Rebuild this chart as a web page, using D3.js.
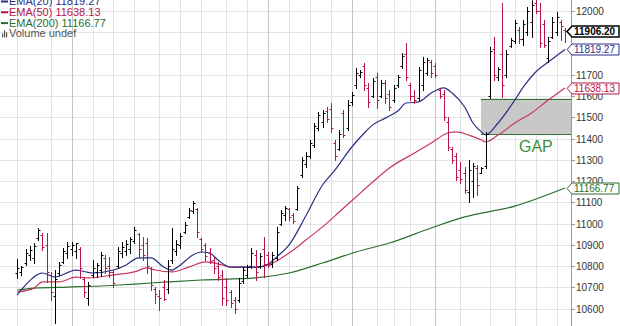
<!DOCTYPE html>
<html>
<head>
<meta charset="utf-8">
<script src="https://cdnjs.cloudflare.com/ajax/libs/d3/7.8.5/d3.min.js"></script>
<style>
body{margin:0;background:#fff;}
#chart{width:620px;height:326px;overflow:hidden;}
</style>
</head>
<body>
<div id="chart"></div>
<script>
// daily bars, oldest first
const opens = [10765,10770,10815,10850,10840,10930,10945,10900,10760,10660,10765,10820,10860,10880,10870,10880,10740,10650,10760,10770,
10780,10840,10800,10770,10800,10860,10870,10880,10920,10950,10900,10910,10790,10690,10660,10700,10690,10830,10870,10900,
10960,11030,11060,11070,10925,10900,10860,10830,10800,10760,10700,10680,10640,10640,10730,10760,10800,10850,10800,10880,
10850,10810,10840,11000,11040,11070,11040,11070,11230,11280,11320,11370,11450,11480,11530,11540,11380,11350,11520,11450,
11570,11650,11700,11740,11640,11600,11690,11600,11660,11610,11580,11650,11740,11800,11650,11600,11590,11650,11710,11760,
11740,11630,11610,11480,11350,11320,11250,11240,11150,11200,11260,11240,11270,11600,11820,11690,11800,11700,11835,11860,
11910,11870,11900,11950,12040,12000,11940,11780,11880,11900,11950,11910];
const highs = [10833,10800,10880,10894,10908,10979,10955,10955,10772,10781,10819,10885,10913,10913,10908,10889,10748,10725,10828,10814,
10866,10852,10842,10781,10889,10913,10922,10936,10984,10955,10936,10932,10795,10701,10687,10734,10828,10979,10922,10955,
11007,11073,11106,11073,10932,10908,10885,10842,10819,10781,10744,10687,10654,10744,10795,10805,10885,10875,10861,10936,
10866,10866,10984,11064,11082,11073,11049,11176,11313,11336,11393,11473,11525,11534,11548,11567,11393,11440,11534,11581,
11619,11732,11722,11755,11661,11685,11708,11675,11675,11628,11652,11699,11802,11849,11661,11628,11736,11784,11779,11769,
11755,11638,11628,11501,11360,11332,11289,11266,11299,11285,11275,11266,11431,11831,11878,11736,12038,11816,11873,11958,
11925,11958,12019,12050,12052,12038,11958,11878,11972,11995,11958,11920];
const lows = [10744,10757,10805,10828,10814,10922,10875,10725,10640,10532,10758,10814,10838,10852,10838,10744,10654,10617,10748,10748,
10753,10767,10748,10701,10791,10842,10852,10861,10908,10842,10828,10767,10687,10626,10593,10640,10673,10814,10852,10885,
10955,11026,11049,10936,10866,10828,10814,10767,10734,10617,10617,10607,10579,10631,10720,10748,10791,10734,10791,10748,
10795,10795,10828,10993,11016,11016,11002,11064,11219,11266,11308,11360,11440,11454,11478,11431,11299,11346,11407,11440,
11558,11638,11689,11628,11548,11595,11544,11595,11567,11534,11572,11642,11732,11675,11581,11567,11581,11628,11699,11689,
11689,11591,11487,11346,11285,11205,11191,11144,11101,11125,11134,11238,11261,11591,11675,11675,11595,11689,11831,11849,
11849,11840,11887,11878,11991,11831,11831,11760,11873,11887,11864,11854];
const closes = [10790,10796,10860,10875,10895,10970,10890,10770,10680,10740,10805,10870,10895,10900,10906,10790,10680,10710,10790,10805,
10850,10790,10770,10720,10870,10890,10905,10925,10970,10880,10850,10800,10710,10670,10650,10645,10800,10880,10905,10940,
10995,11065,11095,10960,10880,10845,10825,10790,10750,10650,10640,10625,10600,10720,10780,10795,10860,10770,10845,10810,
10805,10850,10960,11050,11075,11030,11010,11165,11300,11320,11380,11460,11510,11520,11490,11450,11320,11420,11415,11560,
11605,11710,11715,11650,11570,11670,11580,11660,11590,11550,11640,11690,11790,11690,11600,11580,11720,11760,11770,11710,
11700,11600,11500,11360,11300,11220,11210,11160,11250,11270,11180,11260,11420,11810,11700,11725,11650,11800,11865,11945,
11870,11940,12000,12030,12000,11850,11840,11860,11950,11970,11930,11906.20];

// moving averages read at sampled bar positions
const emaDays20 = [0,2,6,9,14,18,23,26,29,32,35,37,39,42,44,46,48,51,54,58,60,62,65,69,73,76,80,83,85,88,91,93,96,99,102,104,107,109,111,112,115,119,121,124,127,131];
const ema20 = [10664,10711,10767,10748,10781,10767,10781,10805,10838,10838,10795,10781,10805,10852,10866,10861,10828,10795,10795,10795,10809,10842,10899,11035,11181,11252,11360,11426,11464,11496,11529,11567,11572,11614,11638,11614,11548,11473,11431,11417,11473,11581,11642,11713,11760,11819.27];
const emaDays50 = [0,4,6,10,14,17,23,28,31,33,37,41,45,49,51,57,60,65,69,73,77,81,85,89,95,99,103,105,108,111,112,115,119,123,127,131];
const ema50 = [10678,10696,10725,10725,10748,10744,10758,10772,10791,10781,10772,10795,10819,10805,10795,10795,10805,10861,10922,10984,11054,11125,11195,11261,11332,11379,11426,11431,11416,11393,11384,11416,11473,11520,11581,11638.13];
const emaDays200 = [0,4,12,20,28,36,44,57,65,73,81,89,99,107,119,131];
const ema200 = [10687,10696,10701,10706,10715,10725,10734,10744,10767,10814,10866,10908,10979,11031,11082,11166.77];

// price axis and grid
const priceTicks = [10600,10700,10800,10900,11000,11100,11200,11300,11400,11500,11600,11700,11800,11900,12000];
const weekLines = [0,8,18,23,28,34,39,44,50,55,65,70,75,86,90,94,106,113,119,124,129];
const monthLines = [13,60,80,100];

// gap annotation
const gapStart = 111;
const gapRange = [11420, 11588];
const gapLabel = "GAP";

function PriceChart(){
    var self = this;
    self.init();
};

PriceChart.prototype.init = function(){
    var self = this;
    self.svgWidth = 620;
    self.svgHeight = 326;
    self.axisX = 571;

    self.svg = d3.select("#chart").append("svg")
        .attr("width", self.svgWidth)
        .attr("height", self.svgHeight)
        .style("font-family", "'Liberation Sans', Arial, sans-serif");

    self.xScale = d3.scaleLinear()
        .domain([0, closes.length - 1])
        .range([17.3, 565]);
    self.yScale = d3.scaleLinear()
        .domain([10600, 12000])
        .range([308.5, 11]);
};

PriceChart.prototype.update = function(){
    var self = this;
    var svg = self.svg, x = self.xScale, y = self.yScale;

    //grid
    svg.append("g").selectAll("line")
        .data(priceTicks.concat([10500]))
        .enter().append("line")
        .attr("x1", 0).attr("x2", self.axisX)
        .attr("y1", d => Math.round(y(d)) + 0.5)
        .attr("y2", d => Math.round(y(d)) + 0.5)
        .attr("stroke", "#e3e3e3");
    svg.append("g").selectAll("line")
        .data(weekLines)
        .enter().append("line")
        .attr("x1", d => Math.round(x(d)) + 0.5)
        .attr("x2", d => Math.round(x(d)) + 0.5)
        .attr("y1", 0).attr("y2", self.svgHeight)
        .attr("stroke", "#e3e3e3");
    svg.append("g").selectAll("line")
        .data(monthLines)
        .enter().append("line")
        .attr("x1", d => Math.round(x(d)) + 0.5)
        .attr("x2", d => Math.round(x(d)) + 0.5)
        .attr("y1", 0).attr("y2", self.svgHeight)
        .attr("stroke", "#c4c4c4");

    //gap box
    var gx = Math.round(x(gapStart - 0.2));
    svg.append("rect")
        .attr("x", gx)
        .attr("y", y(gapRange[1]))
        .attr("width", self.axisX - gx)
        .attr("height", y(gapRange[0]) - y(gapRange[1]))
        .attr("fill", "#c8c8c8");
    svg.append("g").selectAll("line")
        .data(gapRange)
        .enter().append("line")
        .attr("x1", gx).attr("x2", self.axisX)
        .attr("y1", d => Math.round(y(d)) + 0.5)
        .attr("y2", d => Math.round(y(d)) + 0.5)
        .attr("stroke", "#2f7a2f");
    svg.append("text")
        .attr("x", 519).attr("y", y(gapRange[0]) + 18)
        .attr("font-size", 16)
        .attr("fill", "#3b8c3b")
        .text(gapLabel);

    //moving averages
    var emas = [
        {days: emaDays200, vals: ema200, color: "#2c6e2c"},
        {days: emaDays50, vals: ema50, color: "#c8375a"},
        {days: emaDays20, vals: ema20, color: "#2a2f86"}
    ];
    var line = d3.line()
        .x(d => x(d[0]))
        .y(d => y(d[1]))
        .curve(d3.curveMonotoneX);
    svg.append("g").selectAll("path")
        .data(emas)
        .enter().append("path")
        .attr("d", d => line(d.days.map((v, i) => [v, d.vals[i]])))
        .attr("fill", "none")
        .attr("stroke", d => d.color)
        .attr("stroke-width", 1.2);

    //price bars, red when close is below the previous close
    var bars = closes.map((c, i) => ({i: i, o: opens[i], h: highs[i], l: lows[i], c: c,
        down: i > 0 && c < closes[i - 1]}));
    var g = svg.append("g").selectAll("g")
        .data(bars)
        .enter().append("g")
        .attr("stroke", d => d.down ? "#b3154a" : "#000")
        .attr("transform", d => "translate(" + (Math.round(x(d.i)) + 0.5) + ",0)");
    g.append("line")
        .attr("y1", d => y(d.h)).attr("y2", d => y(d.l) + 1);
    g.append("line")
        .attr("x1", -2).attr("x2", 0)
        .attr("y1", d => Math.round(y(d.o)) + 0.5).attr("y2", d => Math.round(y(d.o)) + 0.5);
    g.append("line")
        .attr("x1", 0).attr("x2", 2)
        .attr("y1", d => Math.round(y(d.c)) + 0.5).attr("y2", d => Math.round(y(d.c)) + 0.5);

    //value tags
    var last = closes.length - 1;
    var tags = [
        {v: ema200[ema200.length - 1], color: "#2c6e2c", bold: false},
        {v: ema50[ema50.length - 1], color: "#b3154a", bold: false},
        {v: ema20[ema20.length - 1], color: "#2a2f86", bold: false},
        {v: closes[last], color: "#000", bold: true}
    ];

    //right axis, labels fully hidden behind a tag are left out
    svg.append("line")
        .attr("x1", self.axisX + 0.5).attr("x2", self.axisX + 0.5)
        .attr("y1", 0).attr("y2", self.svgHeight)
        .attr("stroke", "#999");
    var ax = svg.append("g").selectAll("g")
        .data(priceTicks)
        .enter().append("g")
        .attr("transform", d => "translate(0," + (Math.round(y(d)) + 0.5) + ")");
    ax.append("line")
        .attr("x1", self.axisX).attr("x2", self.axisX + 4)
        .attr("stroke", "#999");
    ax.filter(d => tags.every(t => Math.abs(y(t.v) - y(d)) > 7))
        .append("text")
        .attr("x", 576).attr("dy", "0.35em")
        .attr("font-size", 10)
        .attr("fill", "#333")
        .text(d => d);

    var tg = svg.append("g").selectAll("g")
        .data(tags)
        .enter().append("g")
        .attr("transform", d => "translate(0," + (Math.round(y(d.v)) + 0.5) + ")");
    tg.append("path")
        .attr("d", "M567,0L572,-5.5L619,-5.5L619,5.5L572,5.5Z")
        .attr("fill", "#fff")
        .attr("stroke", d => d.color)
        .attr("stroke-width", d => d.bold ? 1.5 : 1);
    tg.append("text")
        .attr("x", 574).attr("dy", "0.36em")
        .attr("font-size", 10)
        .attr("font-weight", d => d.bold ? "bold" : "normal")
        .attr("fill", d => d.color)
        .text(d => d3.format(".2f")(d.v));

    //legend
    var legend = [
        {label: "EMA(20) " + d3.format(".2f")(ema20[ema20.length - 1]), color: "#2a2f86"},
        {label: "EMA(50) " + d3.format(".2f")(ema50[ema50.length - 1]), color: "#b3154a"},
        {label: "EMA(200) " + d3.format(".2f")(ema200[ema200.length - 1]), color: "#2c6e2c"},
        {label: "Volume undef", color: "#555"}
    ];
    var lg = svg.append("g").selectAll("g")
        .data(legend)
        .enter().append("g")
        .attr("transform", (d, i) => "translate(0," + (5 + i * 10.8) + ")");
    lg.filter((d, i) => i < 3).append("line")
        .attr("x1", 1).attr("x2", 8)
        .attr("y1", -3.5).attr("y2", -3.5)
        .attr("stroke", d => d.color)
        .attr("stroke-width", 2);
    lg.filter((d, i) => i == 3).selectAll("rect")
        .data([4, 7, 5])
        .enter().append("rect")
        .attr("x", (d, i) => 2 + i * 2)
        .attr("y", d => -d)
        .attr("width", 1.2)
        .attr("height", d => d)
        .attr("fill", "#555");
    lg.append("text")
        .attr("x", 9)
        .attr("font-size", 11)
        .attr("fill", d => d.color)
        .text(d => d.label);
};

var chart = new PriceChart();
chart.update();
</script>
</body>
</html>
